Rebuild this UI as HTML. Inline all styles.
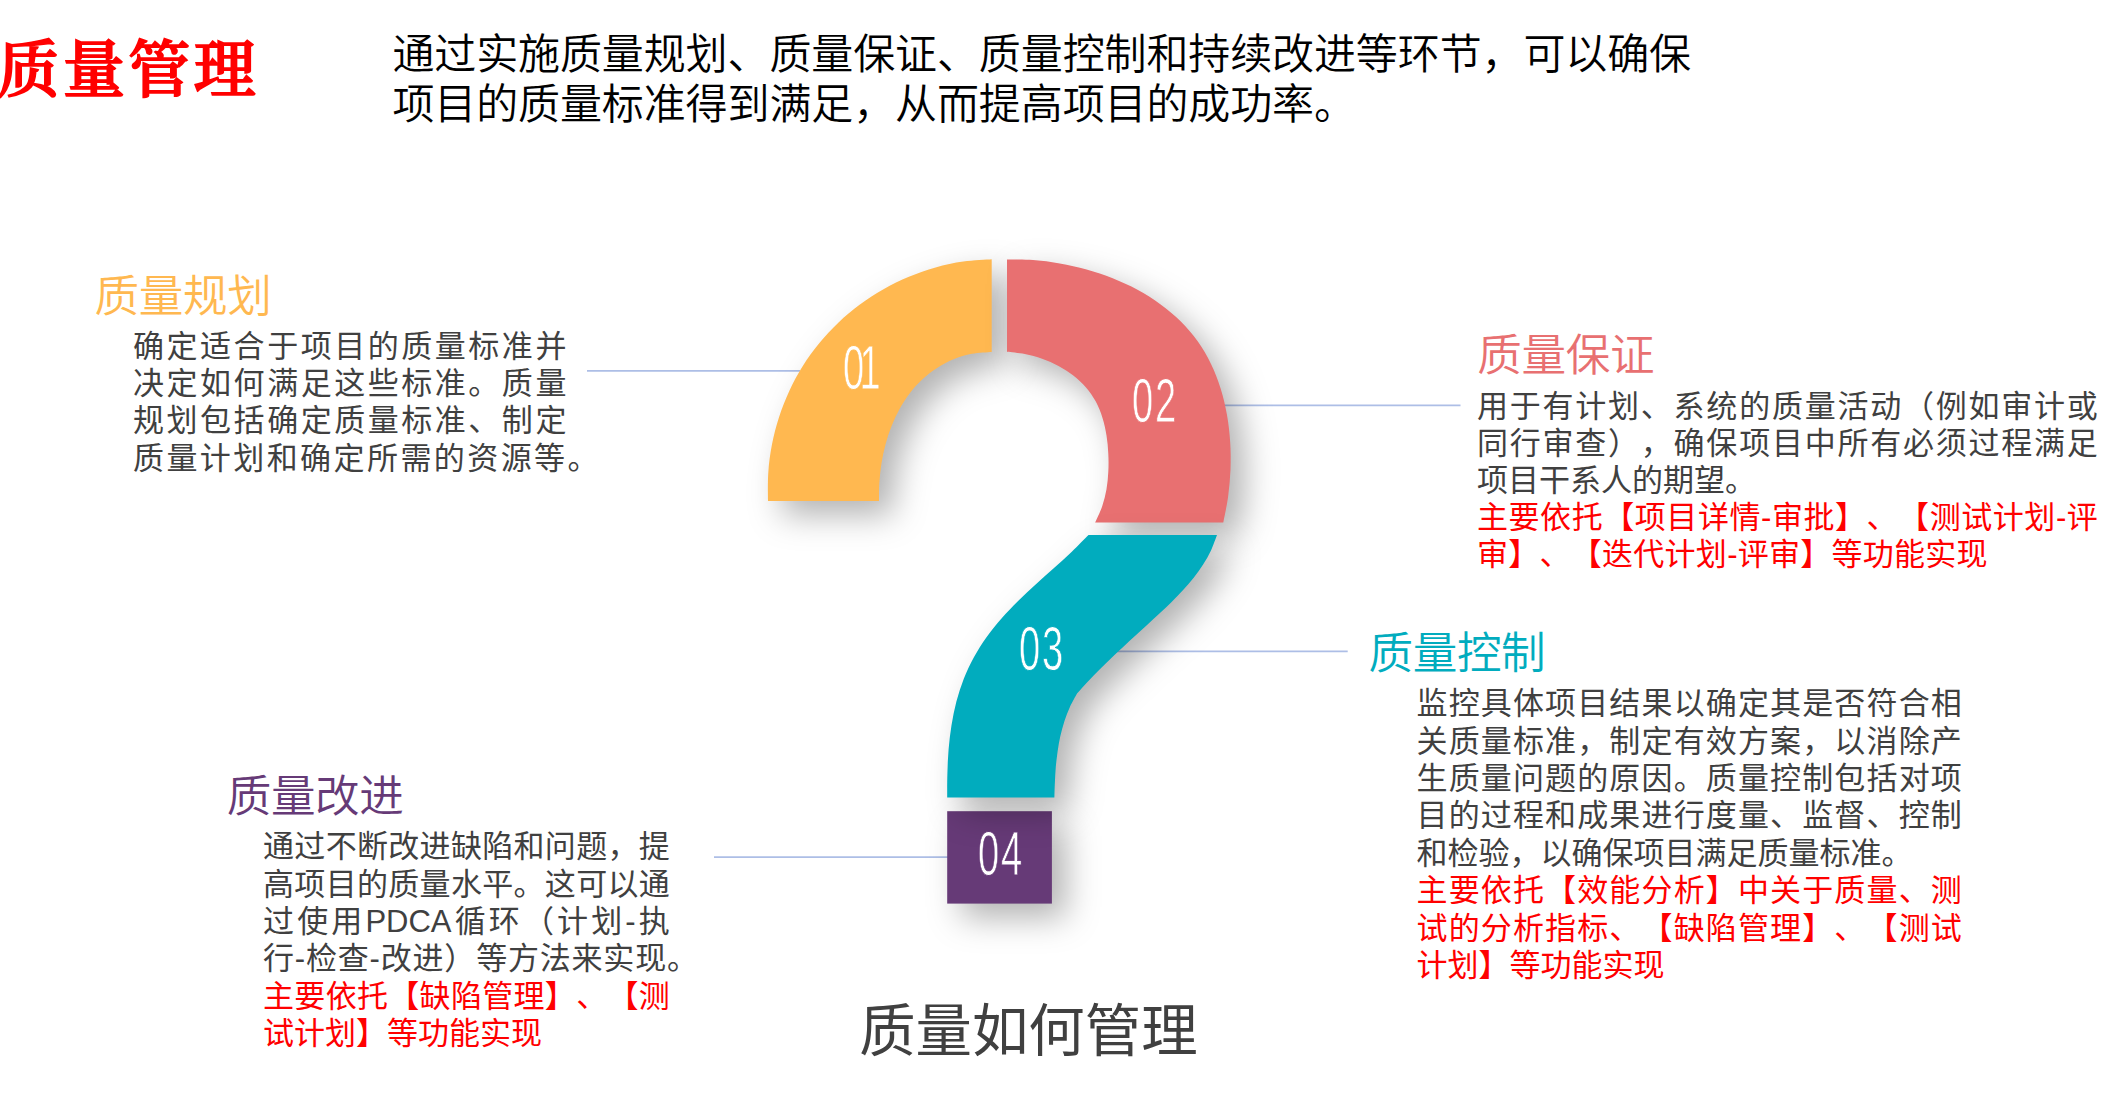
<!DOCTYPE html>
<html lang="zh-CN">
<head>
<meta charset="utf-8">
<title>质量管理</title>
<style>
html,body{margin:0;padding:0;background:#fff;}
body{width:2107px;height:1117px;position:relative;overflow:hidden;font-family:"Liberation Sans","Noto Sans CJK SC",sans-serif;text-spacing-trim:space-all;}
.abs{position:absolute;white-space:nowrap;}
.title{left:-2.5px;top:27px;font-family:"Liberation Serif","Noto Serif CJK SC",serif;font-weight:500;font-size:62px;line-height:88px;color:#ff0000;letter-spacing:3.4px;-webkit-text-stroke:1.9px #ff0000;}
.sub{left:392.4px;font-size:42px;line-height:50px;color:#000;font-weight:350;letter-spacing:-0.11px;}
.hd{font-weight:350;font-size:44.6px;line-height:58px;letter-spacing:-0.4px;}
.ln{position:absolute;white-space:nowrap;font-size:31.0px;line-height:37px;height:37px;}
.j{text-align:justify;text-align-last:justify;text-justify:inter-character;}
.cap{left:859.2px;top:991.7px;font-size:56.4px;line-height:80px;color:#404040;font-weight:400;}
.num{position:absolute;color:#fff;font-family:"Liberation Sans",sans-serif;font-weight:400;font-size:63.5px;line-height:60px;white-space:nowrap;transform-origin:0 0;transform:scaleX(0.6);letter-spacing:3px;-webkit-text-stroke:0.8px var(--bg);}
svg{position:absolute;left:0;top:0;}
</style>
</head>
<body>
<svg width="2107" height="1117" viewBox="0 0 2107 1117">
<defs>
<filter id="sh" x="-60%" y="-60%" width="240%" height="240%" color-interpolation-filters="sRGB">
<feDropShadow dx="14" dy="14" stdDeviation="16.5" flood-color="#000" flood-opacity="0.30"/>
</filter>
</defs>
<g stroke="#adbee6" stroke-width="1.7" fill="none">
<line x1="587" y1="370.9" x2="800" y2="370.9"/>
<line x1="1222" y1="405.3" x2="1460.5" y2="405.3"/>
<line x1="1115" y1="651.3" x2="1347.7" y2="651.3"/>
<line x1="714" y1="857.2" x2="948" y2="857.2"/>
</g>
<rect x="947.2" y="811.2" width="104.7" height="92.4" fill="#663a77" filter="url(#sh)"/>
<path d="M768.0 501.0 C768.0 496.2 767.6 481.9 768.3 472.4 C768.9 463.0 770.2 453.5 772.0 444.3 C773.8 435.0 776.2 425.8 779.1 416.9 C782.0 408.0 785.5 399.2 789.4 390.7 C793.4 382.2 797.8 373.9 802.8 366.0 C807.8 358.1 813.3 350.5 819.2 343.3 C825.1 336.0 831.5 329.1 838.3 322.7 C845.1 316.2 852.4 310.2 859.9 304.6 C867.4 299.0 875.4 293.8 883.5 289.2 C891.7 284.5 900.2 280.3 908.9 276.7 C917.6 273.1 926.5 269.9 935.6 267.4 C944.7 264.8 954.0 262.8 963.3 261.5 C972.7 260.1 987.0 259.6 991.7 259.2 L991.7 352.0 C988.4 352.3 978.2 352.6 971.9 353.8 C965.5 355.0 959.4 356.9 953.6 359.3 C947.8 361.6 942.3 364.5 937.1 367.9 C931.9 371.2 927.0 375.1 922.5 379.3 C918.0 383.5 913.8 388.1 910.0 393.0 C906.2 398.0 902.7 403.3 899.7 408.8 C896.6 414.3 893.9 420.1 891.6 426.0 C889.2 432.0 887.2 438.2 885.5 444.4 C883.9 450.6 882.5 456.9 881.5 463.3 C880.5 469.6 879.8 476.0 879.4 482.3 C878.9 488.6 879.1 497.9 879.0 501.0 Z" fill="#ffb850" filter="url(#sh)"/>
<path d="M1007.0 259.6 C1011.3 259.7 1024.3 259.5 1033.1 260.1 C1041.9 260.8 1050.9 261.9 1059.8 263.4 C1068.8 265.0 1077.8 267.0 1086.6 269.5 C1095.4 271.9 1104.2 274.9 1112.7 278.3 C1121.2 281.7 1129.5 285.5 1137.5 289.8 C1145.4 294.2 1153.1 298.9 1160.3 304.2 C1167.5 309.4 1174.4 315.2 1180.6 321.3 C1186.8 327.5 1192.6 334.2 1197.7 341.3 C1202.8 348.4 1207.2 356.0 1211.0 363.9 C1214.9 371.8 1218.1 380.2 1220.7 388.7 C1223.4 397.3 1225.4 406.2 1227.0 415.1 C1228.6 424.0 1229.6 433.2 1230.2 442.3 C1230.8 451.4 1230.8 460.6 1230.5 469.7 C1230.1 478.8 1229.3 487.9 1228.1 496.7 C1226.9 505.5 1224.1 518.3 1223.3 522.6 L1095.1 522.6 C1096.3 519.9 1100.3 511.7 1102.2 506.2 C1104.1 500.6 1105.5 495.0 1106.5 489.3 C1107.5 483.5 1108.0 477.7 1108.3 471.8 C1108.7 465.9 1108.6 459.8 1108.3 453.8 C1108.0 447.8 1107.5 441.6 1106.5 435.6 C1105.6 429.6 1104.3 423.6 1102.5 417.9 C1100.7 412.3 1098.6 406.7 1095.8 401.6 C1093.1 396.5 1089.7 391.7 1086.0 387.4 C1082.2 383.0 1077.9 379.0 1073.3 375.4 C1068.8 371.9 1063.7 368.7 1058.5 365.9 C1053.3 363.1 1047.8 360.7 1042.1 358.7 C1036.5 356.7 1030.6 355.2 1024.8 354.0 C1018.9 352.9 1010.0 352.2 1007.0 351.8 Z" fill="#e87071" filter="url(#sh)"/>
<path d="M1217.0 535.0 C1216.0 537.6 1213.3 545.5 1211.0 550.4 C1208.7 555.3 1206.0 560.0 1203.1 564.6 C1200.2 569.1 1197.0 573.5 1193.7 577.7 C1190.3 582.0 1186.7 586.1 1183.1 590.1 C1179.4 594.1 1175.5 598.0 1171.6 601.9 C1167.7 605.7 1163.7 609.5 1159.7 613.3 C1155.7 617.0 1151.7 620.7 1147.6 624.5 C1143.6 628.2 1139.5 631.9 1135.5 635.6 C1131.4 639.3 1127.4 643.1 1123.4 646.8 C1119.4 650.5 1115.3 654.3 1111.4 658.0 C1107.4 661.8 1103.5 665.6 1099.6 669.5 C1095.8 673.4 1092.0 677.2 1088.2 681.2 C1084.5 685.2 1079.0 691.3 1077.2 693.3 L1077.2 693.3 C1076.0 695.6 1072.0 702.3 1069.9 707.0 C1067.8 711.6 1066.0 716.4 1064.4 721.3 C1062.8 726.2 1061.5 731.2 1060.3 736.2 C1059.2 741.2 1058.3 746.3 1057.6 751.4 C1056.8 756.5 1056.3 761.7 1055.8 766.8 C1055.4 772.0 1055.1 777.1 1054.9 782.3 C1054.6 787.4 1054.5 795.0 1054.4 797.6 L947.2 797.6 C947.2 793.6 947.1 781.7 947.4 773.6 C947.6 765.6 947.9 757.4 948.6 749.3 C949.3 741.3 950.2 733.1 951.5 725.2 C952.8 717.2 954.4 709.2 956.4 701.5 C958.5 693.8 960.9 686.2 963.8 678.8 C966.8 671.4 970.1 664.2 973.9 657.3 C977.7 650.4 982.0 643.6 986.5 637.2 C991.1 630.7 996.2 624.5 1001.5 618.5 C1006.7 612.4 1012.4 606.6 1018.1 600.9 C1023.9 595.2 1029.9 589.7 1035.9 584.2 C1041.9 578.7 1048.0 573.3 1054.0 567.9 C1060.0 562.5 1066.0 557.2 1071.8 551.7 C1077.5 546.2 1085.7 537.8 1088.5 535.0 Z" fill="#01acbe" filter="url(#sh)"/>
</svg>
<div class="abs title">质量管理</div>
<div class="abs sub" style="top:30.2px">通过实施质量规划、质量保证、质量控制和持续改进等环节，可以确保</div>
<div class="abs sub" style="top:80.4px">项目的质量标准得到满足，从而提高项目的成功率。</div>

<div class="abs hd" style="left:94.6px;top:268px;color:#ffb850">质量规划</div>
<div class="abs hd" style="left:1477.3px;top:326.8px;color:#e87071">质量保证</div>
<div class="abs hd" style="left:1368.5px;top:625.2px;color:#01acbe">质量控制</div>
<div class="abs hd" style="left:226.7px;top:768.3px;color:#663a77">质量改进</div>

<div class="ln j" style="left:133.0px;top:328.0px;width:433.4px;color:#404040">确定适合于项目的质量标准并</div>
<div class="ln j" style="left:133.0px;top:365.2px;width:433.4px;color:#404040">决定如何满足这些标准。质量</div>
<div class="ln j" style="left:133.0px;top:402.4px;width:433.4px;color:#404040">规划包括确定质量标准、制定</div>
<div class="ln j" style="left:133.0px;top:439.6px;width:465.5px;color:#404040">质量计划和确定所需的资源等。</div>
<div class="ln j" style="left:1477.0px;top:387.5px;width:620.8px;color:#404040">用于有计划、系统的质量活动（例如审计或</div>
<div class="ln j" style="left:1477.0px;top:424.6px;width:620.8px;color:#404040">同行审查），确保项目中所有必须过程满足</div>
<div class="ln" style="left:1477.0px;top:461.8px;color:#404040">项目干系人的期望。</div>
<div class="ln j" style="left:1477.0px;top:498.9px;width:620.8px;color:#ff0000">主要依托【项目详情-审批】、【测试计划-评</div>
<div class="ln j" style="left:1477.0px;top:536.1px;width:510.6px;color:#ff0000">审】、【迭代计划-评审】等功能实现</div>
<div class="ln j" style="left:1416.5px;top:685.0px;width:545.3px;color:#404040">监控具体项目结果以确定其是否符合相</div>
<div class="ln j" style="left:1416.5px;top:722.5px;width:545.3px;color:#404040">关质量标准，制定有效方案，以消除产</div>
<div class="ln j" style="left:1416.5px;top:759.9px;width:545.3px;color:#404040">生质量问题的原因。质量控制包括对项</div>
<div class="ln j" style="left:1416.5px;top:797.4px;width:545.3px;color:#404040">目的过程和成果进行度量、监督、控制</div>
<div class="ln" style="left:1416.5px;top:834.8px;color:#404040">和检验，以确保项目满足质量标准。</div>
<div class="ln j" style="left:1416.5px;top:872.2px;width:545.3px;color:#ff0000">主要依托【效能分析】中关于质量、测</div>
<div class="ln j" style="left:1416.5px;top:909.7px;width:545.3px;color:#ff0000">试的分析指标、【缺陷管理】、【测试</div>
<div class="ln" style="left:1416.5px;top:947.2px;color:#ff0000">计划】等功能实现</div>
<div class="ln j" style="left:263.0px;top:828.0px;width:406.8px;color:#404040">通过不断改进缺陷和问题，提</div>
<div class="ln j" style="left:263.0px;top:865.5px;width:406.8px;color:#404040">高项目的质量水平。这可以通</div>
<div class="ln j" style="left:263.0px;top:902.9px;width:406.8px;color:#404040">过使用PDCA循环（计划-执</div>
<div class="ln j" style="left:263.0px;top:940.4px;width:435.0px;color:#404040">行-检查-改进）等方法来实现。</div>
<div class="ln j" style="left:263.0px;top:977.8px;width:406.8px;color:#ff0000">主要依托【缺陷管理】、【测</div>
<div class="ln" style="left:263.0px;top:1015.2px;color:#ff0000">试计划】等功能实现</div>

<div class="abs cap">质量如何管理</div>

<div class="num" style="left:843px;top:337.2px;--bg:#ffb850;letter-spacing:-8px">01</div>
<div class="num" style="left:1132px;top:370.3px;--bg:#e87071">02</div>
<div class="num" style="left:1019px;top:617.5px;--bg:#01acbe">03</div>
<div class="num" style="left:978.3px;top:823px;--bg:#663a77">04</div>
</body>
</html>
